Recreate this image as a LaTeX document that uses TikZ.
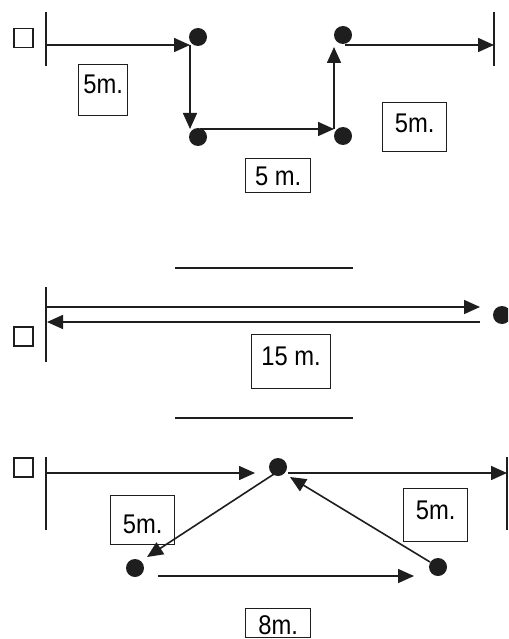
\documentclass[tikz,border=0pt]{standalone}
\usepackage{fontspec}
\newfontfamily\labfont[FakeStretch=0.88]{Liberation Sans}
\usetikzlibrary{arrows.meta}
\definecolor{ink}{RGB}{30,30,30}
\begin{document}
\begin{tikzpicture}[x=1pt,y=-1pt,
  dot/.style={circle, fill=ink, inner sep=0pt, minimum size=18pt},
  sq/.style={draw=ink, line width=1.3pt, minimum size=19pt, inner sep=0pt},
  bar/.style={draw=ink, line width=1.6pt},
  arr/.style={-{Triangle[length=16pt,width=14pt]}, draw=ink, line width=1.6pt},
  lab/.style={draw=ink, line width=1.3pt, inner xsep=0pt, inner ysep=0pt,
    font=\labfont\fontsize{27}{30}\selectfont, anchor=north west}]
\useasboundingbox (0,0) rectangle (508,639);
\clip (0,0) rectangle (508,639);
\fill[white] (0,0) rectangle (508,639);

% ---------- top section ----------
\node[sq] (s1) at (23.5,38) {};
\coordinate (b1t) at (46,12); \coordinate (b1b) at (46,66);
\draw[bar] (b1t) -- (b1b);
\coordinate (b2t) at (494,12); \coordinate (b2b) at (494,66);
\draw[bar] (b2t) -- (b2b);
\coordinate (p1) at (46,45);  \coordinate (p2) at (190,45);
\coordinate (p3) at (190,129); \coordinate (p4) at (200,129);
\coordinate (p5) at (334,129); \coordinate (p6) at (334,47);
\coordinate (p7) at (345,45);  \coordinate (p8) at (494,45);
\draw[arr] (p1) -- (p2);
\draw[arr] (p2) -- (p3);
\draw[arr] (p4) -- (p5);
\draw[arr] (p5) -- (p6);
\draw[arr] (p7) -- (p8);
\node[dot] (dA) at (198,37) {};
\node[dot] (dB) at (198,137) {};
\node[dot] (dC) at (343,136) {};
\node[dot] (dD) at (343,35) {};
\node[lab, minimum width=49pt, text height=29pt, text depth=22pt] (l1) at (78,64) {5m.};
\node[lab, minimum width=65pt, text height=27pt, text depth=7pt] (l2) at (245,158) {5 m.};
\node[lab, minimum width=64pt, text height=30pt, text depth=19pt] (l3) at (382,102) {5m.};

% ---------- middle section ----------
\coordinate (h1a) at (175,268); \coordinate (h1b) at (353,268);
\draw[bar] (h1a) -- (h1b);
\coordinate (h2a) at (175,418); \coordinate (h2b) at (353,418);
\draw[bar] (h2a) -- (h2b);
\coordinate (b3t) at (46,287); \coordinate (b3b) at (46,362);
\draw[bar] (b3t) -- (b3b);
\coordinate (m1) at (46,307);  \coordinate (m2) at (480,307);
\coordinate (m3) at (480,322); \coordinate (m4) at (47,322);
\draw[arr] (m1) -- (m2);
\draw[arr] (m3) -- (m4);
\node[dot] (dE) at (502,315) {};
\node[sq] (s2) at (23.5,336.5) {};
\node[lab, minimum width=79pt, text height=31pt, text depth=23pt] (l4) at (251,334) {15 m.};

% ---------- bottom section ----------
\node[sq] (s3) at (23.5,467.5) {};
\coordinate (b4t) at (46,457); \coordinate (b4b) at (46,530);
\draw[bar] (b4t) -- (b4b);
\coordinate (b5t) at (507,457); \coordinate (b5b) at (507,530);
\draw[bar] (b5t) -- (b5b);
\coordinate (q1) at (46,473);  \coordinate (q2) at (255,473);
\coordinate (q3) at (288,473); \coordinate (q4) at (507,473);
\coordinate (q5) at (274,474); \coordinate (q6) at (147,557);
\coordinate (q7) at (158,576); \coordinate (q8) at (414,576);
\coordinate (q9) at (430,562); \coordinate (q10) at (290,477);
\draw[arr] (q1) -- (q2);
\draw[arr] (q3) -- (q4);
\draw[arr] (q5) -- (q6);
\draw[arr] (q7) -- (q8);
\draw[arr] (q9) -- (q10);
\node[dot] (dF) at (278,467) {};
\node[dot] (dG) at (135,568) {};
\node[dot] (dH) at (438,567) {};
\node[lab, minimum width=64pt, text height=38pt, text depth=11pt] (l5) at (110,495) {5m.};
\node[lab, minimum width=64pt, text height=31pt, text depth=22pt] (l6) at (403,488) {5m.};
\node[lab, minimum width=65pt, text height=26pt, text depth=3pt] (l7) at (245,608) {8m.};
\end{tikzpicture}
\end{document}
